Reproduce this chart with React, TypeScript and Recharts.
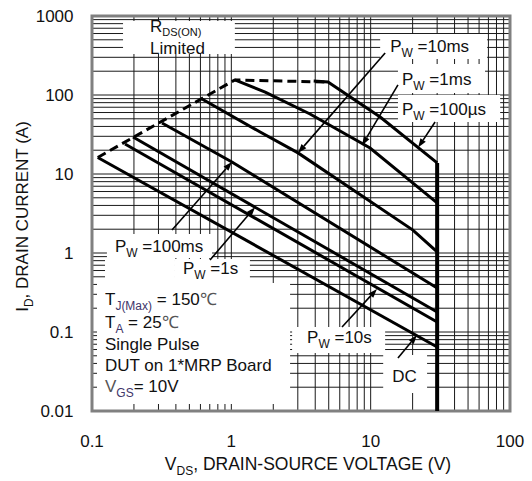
import React from 'react';
import {
  LineChart, Line, XAxis, YAxis, CartesianGrid,
  ReferenceArea, ReferenceLine, Label,
} from 'recharts';

const FONT = '"Liberation Sans", Arial, Helvetica, sans-serif';

// log grid ticks
const X_TICKS = [
  0.1, 0.2, 0.3, 0.4, 0.5, 0.6, 0.7, 0.8, 0.9,
  1, 2, 3, 4, 5, 6, 7, 8, 9,
  10, 20, 30, 40, 50, 60, 70, 80, 90, 100,
];
const Y_TICKS = [
  0.01, 0.02, 0.03, 0.04, 0.05, 0.06, 0.07, 0.08, 0.09,
  0.1, 0.2, 0.3, 0.4, 0.5, 0.6, 0.7, 0.8, 0.9,
  1, 2, 3, 4, 5, 6, 7, 8, 9,
  10, 20, 30, 40, 50, 60, 70, 80, 90,
  100, 200, 300, 400, 500, 600, 700, 800, 900, 1000,
];
const X_LABELS = [0.1, 1, 10, 100];
const Y_LABELS = [0.01, 0.1, 1, 10, 100, 1000];

// SOA curves, v = VDS (V), i = ID (A)
const RDS_LIMIT = [
  { v: 0.11, i: 16.2 }, { v: 1.06, i: 155 }, { v: 4.9, i: 146 },
];
const PW_100US = [
  { v: 3.9, i: 150 }, { v: 4.94, i: 146 }, { v: 11.7, i: 52.7 }, { v: 30, i: 13.8 },
];
const PW_1MS = [
  { v: 1.06, i: 155 }, { v: 1.75, i: 109 }, { v: 3.67, i: 57.5 }, { v: 9.9, i: 21.3 }, { v: 30, i: 4.3 },
];
const PW_10MS = [
  { v: 0.616, i: 89 }, { v: 1.61, i: 34 }, { v: 3.01, i: 18.5 }, { v: 20.1, i: 1.95 }, { v: 30, i: 1.03 },
];
const PW_100MS = [{ v: 0.318, i: 44.2 }, { v: 1.01, i: 14.2 }, { v: 30, i: 0.36 }];
const PW_1S = [{ v: 0.197, i: 29.4 }, { v: 30, i: 0.179 }];
const PW_10S = [{ v: 0.1725, i: 24 }, { v: 30, i: 0.134 }];
const DC = [{ v: 0.11, i: 16.2 }, { v: 30, i: 0.0646 }];
const BV_LIMIT = [{ v: 30, i: 13.8 }, { v: 30, i: 0.01 }];

// annotation arrows: [from, to] in (V, A)
const ARROWS = [
  [[12.7, 340], [3.01, 18.5]],
  [[15.7, 134], [8.67, 23]],
  [[29, 45.5], [21.9, 21.6]],
  [[0.375, 1.95], [1.01, 14.2]],
  [[0.703, 0.815], [1.48, 3.8]],
  [[6.23, 0.1156], [11.1, 0.35]],
  [[15.7, 0.0469], [21.5, 0.0916]],
];

type Seg = { t: string; sub?: boolean; color?: string; size?: number; off?: number };
type Note = {
  x1: number; x2: number; y1: number; y2: number;
  dx: number; lines: { dy: number; segs: Seg[] }[];
};

const PURPLE = '#40356a';
const pw = (s: string): Seg[] => [{ t: 'P' }, { t: 'W', sub: true }, { t: ` =${s}` }];

// white label boxes (they hide the grid beneath the text)
const NOTES: Note[] = [
  { x1: 0.167, x2: 1.06, y1: 330, y2: 865, dx: 27, lines: [
    { dy: 11, segs: [{ t: 'R' }, { t: 'DS(ON)', sub: true, size: 11, off: 4 }] },
    { dy: 33, segs: [{ t: 'Limited' }] },
  ] },
  { x1: 11.7, x2: 68.5, y1: 286, y2: 591, dx: 10, lines: [{ dy: 18, segs: pw('10ms') }] },
  { x1: 15.7, x2: 66.2, y1: 106, y2: 247, dx: 4, lines: [{ dy: 21, segs: pw('1ms') }] },
  { x1: 15.7, x2: 85, y1: 45.5, y2: 100, dx: 4, lines: [{ dy: 20, segs: pw('100µs') }] },
  { x1: 0.128, x2: 0.727, y1: 0.865, y2: 1.74, dx: 8, lines: [{ dy: 18, segs: pw('100ms') }] },
  { x1: 0.124, x2: 0.394, y1: 0.417, y2: 0.865, dx: 0, lines: [] },
  { x1: 0.394, x2: 1.36, y1: 0.417, y2: 0.84, dx: 8, lines: [{ dy: 15, segs: pw('1s') }] },
  { x1: 0.1086, x2: 2.64, y1: 0.01227, y2: 0.417, dx: 8, lines: [
    { dy: 22, segs: [{ t: 'T' }, { t: 'J(Max)', sub: true, color: PURPLE }, { t: ' = 150' }, { t: '℃', color: '#555' }] },
    { dy: 44.5, segs: [{ t: 'T' }, { t: 'A', sub: true, color: PURPLE }, { t: ' = 25' }, { t: '℃', color: '#555' }] },
    { dy: 66.5, segs: [{ t: 'Single Pulse' }] },
    { dy: 88, segs: [{ t: 'DUT on 1*MRP Board' }] },
    { dy: 108.5, segs: [{ t: 'V', color: '#555' }, { t: 'GS', sub: true, color: PURPLE }, { t: '= 10V' }] },
  ] },
  { x1: 2.73, x2: 12.7, y1: 0.0542, y2: 0.1156, dx: 15, lines: [{ dy: 16, segs: pw('10s') }] },
  { x1: 12.3, x2: 25.4, y1: 0.0169, y2: 0.0512, dx: 9, lines: [{ dy: 27, segs: [{ t: 'DC' }] }] },
];

function segsToSpans(segs: Seg[]) {
  let shift = 0;
  return segs.map((s, k) => {
    const target = s.sub ? (s.off ?? 5) : 0;
    const dy = target - shift;
    shift = target;
    return (
      <tspan key={k} dy={dy} fontSize={s.sub ? (s.size ?? 12) : undefined} fill={s.color}>{s.t}</tspan>
    );
  });
}

const noteLabel = (note: Note) => (props: any) => {
  const vb = props.viewBox || {};
  return (
    <g>
      {note.lines.map((ln, k) => (
        <text key={k} x={vb.x + note.dx} y={vb.y + ln.dy} fontSize={17} fill="#111"
          fontFamily={FONT} style={{ whiteSpace: 'pre' }}>
          {segsToSpans(ln.segs)}
        </text>
      ))}
    </g>
  );
};

const arrowShape = (p: any) => {
  const { x1, y1, x2, y2 } = p;
  if (![x1, y1, x2, y2].every((n) => typeof n === 'number')) return <g />;
  const a = Math.atan2(y2 - y1, x2 - x1);
  const L = 9;
  const W = 3.2;
  const bx = x2 - L * Math.cos(a);
  const by = y2 - L * Math.sin(a);
  const pts = [
    [x2, y2],
    [bx - W * Math.sin(a), by + W * Math.cos(a)],
    [bx + W * Math.sin(a), by - W * Math.cos(a)],
  ].map((q) => q.join(',')).join(' ');
  return (
    <g>
      <line x1={x1} y1={y1} x2={bx} y2={by} stroke="#000" strokeWidth={1.6} />
      <polygon points={pts} fill="#000" />
    </g>
  );
};

const XTick = (props: any) => {
  const { x, y, payload } = props;
  if (!X_LABELS.includes(payload.value)) return <g />;
  return (
    <text x={x} y={y + 36} textAnchor="middle" fontSize={17} fill="#111" fontFamily={FONT}>
      {String(payload.value)}
    </text>
  );
};

const YTick = (props: any) => {
  const { x, y, payload } = props;
  if (!Y_LABELS.includes(payload.value)) return <g />;
  return (
    <text x={x - 18.5} y={y + 6} textAnchor="end" fontSize={17} fill="#111" fontFamily={FONT}>
      {String(payload.value)}
    </text>
  );
};

const XTitle = (props: any) => {
  const vb = props.viewBox || { x: 92, y: 411 };
  return (
    <text x={vb.x + 216} y={vb.y + 59} textAnchor="middle" fontSize={17.5} fill="#111" fontFamily={FONT}>
      <tspan>V</tspan>
      <tspan dy={5} fontSize={12}>DS</tspan>
      <tspan dy={-5}>, DRAIN-SOURCE VOLTAGE (V)</tspan>
    </text>
  );
};

const YTitle = (props: any) => {
  const vb = props.viewBox || { y: 16, height: 395 };
  const cx = 28;
  const cy = vb.y + vb.height / 2 + 3;
  return (
    <text x={cx} y={cy} transform={`rotate(-90 ${cx} ${cy})`} textAnchor="middle"
      fontSize={17} fill="#111" fontFamily={FONT}>
      <tspan>I</tspan>
      <tspan dy={5} fontSize={12}>D</tspan>
      <tspan dy={-5}>, DRAIN CURRENT (A)</tspan>
    </text>
  );
};

const curve = { dataKey: 'i', stroke: '#000', strokeWidth: 3, dot: false, activeDot: false,
  isAnimationActive: false, type: 'linear' as const };

export default function App() {
  return (
    <div style={{ position: 'absolute', left: 0, top: 0, width: 532, height: 481, background: '#fff' }}>
      <LineChart width={532} height={481} margin={{ top: 16, right: 22, bottom: 0, left: 0 }}>
        <CartesianGrid stroke="#1a1a1a" strokeWidth={1} />
        <XAxis dataKey="v" type="number" scale="log" domain={[0.1, 100]} ticks={X_TICKS}
          interval={0} allowDataOverflow tickLine={false} axisLine={false}
          tickSize={0} tickMargin={0} height={70} tick={XTick}>
          <Label content={XTitle} />
        </XAxis>
        <YAxis type="number" scale="log" domain={[0.01, 1000]} ticks={Y_TICKS}
          interval={0} allowDataOverflow tickLine={false} axisLine={false}
          tickSize={0} tickMargin={0} width={92} tick={YTick}>
          <Label content={YTitle} />
        </YAxis>

        {NOTES.map((n, k) => (
          <ReferenceArea key={`n${k}`} x1={n.x1} x2={n.x2} y1={n.y1} y2={n.y2}
            fill="#fff" fillOpacity={1} stroke="none" ifOverflow="visible"
            label={noteLabel(n)} />
        ))}

        <Line {...curve} data={RDS_LIMIT} strokeDasharray="9 5" />
        <Line {...curve} data={PW_100US} />
        <Line {...curve} data={PW_1MS} />
        <Line {...curve} data={PW_10MS} />
        <Line {...curve} data={PW_100MS} />
        <Line {...curve} data={PW_1S} />
        <Line {...curve} data={PW_10S} />
        <Line {...curve} data={DC} />
        <Line {...curve} data={BV_LIMIT} strokeWidth={4} />

        {ARROWS.map((a, k) => (
          <ReferenceLine key={`a${k}`} ifOverflow="visible"
            segment={[{ x: a[0][0], y: a[0][1] }, { x: a[1][0], y: a[1][1] }]}
            shape={arrowShape} />
        ))}

        <ReferenceArea x1={0.1} x2={100} y1={0.01} y2={1000} fill="none"
          stroke="#808080" strokeWidth={3} ifOverflow="visible" />
      </LineChart>
    </div>
  );
}
